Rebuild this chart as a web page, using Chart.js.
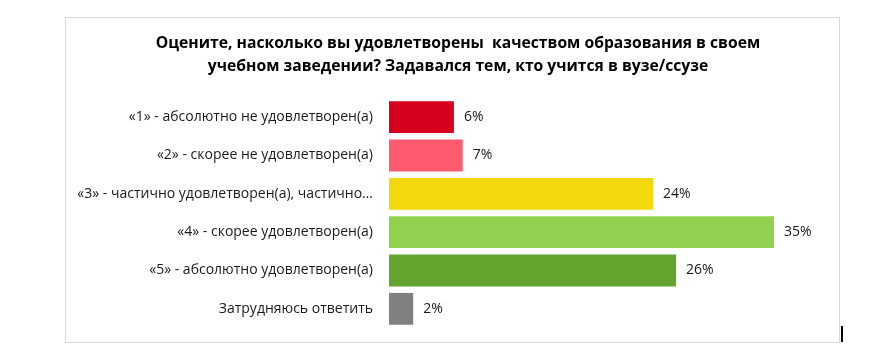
<!DOCTYPE html>
<html><head><meta charset="utf-8">
<script src="https://cdn.jsdelivr.net/npm/chart.js@4/dist/chart.umd.min.js"></script>
<style>html,body{margin:0;padding:0;background:#fff;}canvas{display:block;}</style>
</head><body>
<canvas id="c" width="881" height="362"></canvas>
<script>
const titleLines = [
  "Оцените, насколько вы удовлетворены  качеством образования в своем",
  "учебном заведении? Задавался тем, кто учится в вузе/ссузе"
];
const categories = [
  "«1» - абсолютно не удовлетворен(а)",
  "«2» - скорее не удовлетворен(а)",
  "«3» - частично удовлетворен(а), частично…",
  "«4» - скорее удовлетворен(а)",
  "«5» - абсолютно удовлетворен(а)",
  "Затрудняюсь ответить"
];
const values = [5.9, 6.7, 24.0, 35.0, 26.1, 2.2];
const valueLabels = ["6%", "7%", "24%", "35%", "26%", "2%"];
const barColors = ["#d6001c", "#fe5b6e", "#f4d80e", "#92d050", "#63a52e", "#808080"];

const framePlugin = {
  id: 'frame',
  beforeDraw(chart) {
    const ctx = chart.ctx;
    ctx.save();
    ctx.fillStyle = '#fff';
    ctx.fillRect(0, 0, chart.width, chart.height);
    ctx.strokeStyle = '#d9d9d9';
    ctx.lineWidth = 1;
    ctx.strokeRect(65.5, 17.5, 774, 325);
    ctx.restore();
  },
  afterDraw(chart) {
    const ctx = chart.ctx;
    ctx.save();
    ctx.fillStyle = '#000';
    ctx.textAlign = 'center';
    ctx.textBaseline = 'middle';
    ctx.font = 'bold 15.7px "Open Sans", sans-serif';
    ctx.fillText(titleLines[0], 458, 44);
    ctx.fillText(titleLines[1], 458, 67);
    ctx.fillRect(841, 326, 2, 16);
    ctx.restore();
  }
};

const valuePlugin = {
  id: 'vals',
  afterDatasetsDraw(chart) {
    const ctx = chart.ctx;
    const meta = chart.getDatasetMeta(0);
    ctx.save();
    ctx.fillStyle = '#1a1a1a';
    ctx.font = '14px "Open Sans", sans-serif';
    ctx.textAlign = 'left';
    ctx.textBaseline = 'middle';
    meta.data.forEach((bar, i) => {
      ctx.fillText(valueLabels[i], bar.x + 10, bar.y);
    });
    ctx.restore();
  }
};

new Chart(document.getElementById('c'), {
  type: 'bar',
  data: {
    labels: categories,
    datasets: [{
      data: values,
      backgroundColor: barColors,
      borderWidth: 0,
      categoryPercentage: 1,
      barPercentage: 0.83
    }]
  },
  options: {
    indexAxis: 'y',
    responsive: false,
    animation: false,
    layout: { padding: { top: 98, bottom: 34, left: 0, right: 52 } },
    plugins: { legend: { display: false }, tooltip: { enabled: false }, title: { display: false } },
    scales: {
      x: { display: false, min: 0, max: 40 },
      y: {
        grid: { display: false, drawTicks: false },
        border: { display: false },
        ticks: {
          color: '#1a1a1a',
          padding: 16,
          font: { family: '"Open Sans", sans-serif', size: 14 }
        },
        afterFit(scale) { scale.width = 389; }
      }
    }
  },
  plugins: [framePlugin, valuePlugin]
});
</script>
</body></html>
